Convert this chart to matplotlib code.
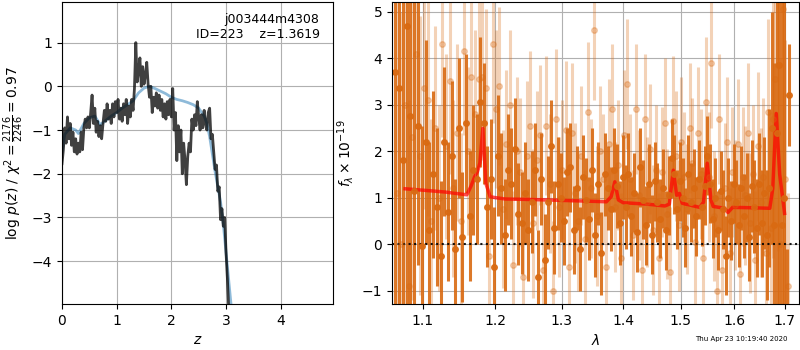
import numpy as np
import matplotlib
matplotlib.use("Agg")
import matplotlib.pyplot as plt
from matplotlib.ticker import NullLocator, NullFormatter

# ---- left panel: p(z) ----
z_grid = np.linspace(0.0, 3.05, 123)  # regular redshift grid, step 0.025
logpz = [
    -1.77, -1.45, -0.95, -1.30, -0.70, -1.20, -0.85, -1.35, -1.05, -1.50,
    -1.20, -1.55, -1.30, -1.50, -1.05, -1.45, -0.95, -0.75, -0.95, -0.70,
    -0.95, -0.60, -0.20, -0.85, -0.50, -1.05, -0.80, -1.15, -0.90, -1.20,
    -0.85, -0.55, -0.80, -0.40, -0.75, -0.55, -0.85, -0.40, -0.70, -0.35,
    -0.60, -0.30, -0.75, -0.50, -0.80, -0.40, -0.65, -0.30, -0.85, -0.45,
    -0.70, -0.30, -0.55, -0.05, 1.00, 0.10, 0.35, 0.65, 0.00, 0.45,
    0.05, 0.25, 0.55, 0.05, -0.25, 0.00, -0.60, -0.25, -0.45, -0.15,
    -0.50, -0.20, -0.55, -0.30, -0.70, -0.40, -0.75, -0.35, -0.65, -0.30,
    -0.70, -0.05, -1.00, -0.60, -1.70, -0.90, -1.50, -1.00, -2.00, -1.30,
    -1.70, -2.25, -1.60, -1.30, -1.50, -0.75, -1.00, -0.65, -0.90, -0.35,
    -0.70, -1.00, -0.65, -0.95, -0.55, -0.85, -1.00, -0.60, -0.50, -1.20,
    -1.10, -1.50, -1.90, -1.80, -2.40, -2.30, -3.05, -2.80, -3.20, -3.00,
    -3.80, -4.40, -5.10,
]

z_smooth = [0.0, 0.05, 0.15, 0.25, 0.3, 0.4, 0.5, 0.6, 0.7, 0.8, 0.9, 1.0,
            1.1, 1.2, 1.3, 1.4, 1.5, 1.6, 1.7, 1.8, 1.9, 2.0, 2.1, 2.2, 2.3,
            2.4, 2.5, 2.6, 2.65, 2.7, 2.75, 2.8, 2.85, 2.9, 2.95, 3.0, 3.05, 3.1]
logpz_smooth = [-1.5, -1.1, -0.95, -1.0, -1.08, -0.85, -0.72, -0.68, -0.88,
                -0.78, -0.68, -0.6, -0.5, -0.42, -0.33, -0.15, -0.04, 0.0,
                -0.05, -0.11, -0.17, -0.25, -0.3, -0.33, -0.37, -0.42, -0.5,
                -0.68, -0.85, -1.15, -1.55, -1.95, -2.3, -2.65, -3.15, -3.8,
                -4.45, -5.1]

# ---- right panel: spectrum ----
wave_dark = np.linspace(1.064, 1.709, 130)  # pixel grid
flux_dark = [
    3.70, 3.35, 1.80, 4.70, 2.75, 1.15, 2.55, -0.05, 2.20, 0.30,
    1.50, 0.80, -0.25, 2.20, 0.70, 1.90, -0.10, 2.50, 0.15, 2.60,
    0.60, 1.60, 1.40, 3.05, 2.60, 0.80, 1.40, -0.50, 1.90, 1.20,
    0.20, 1.60, 1.30, 2.05, 0.65, 0.45, 1.10, 0.30, 0.90, 1.60,
    -0.70, 1.40, -0.35, 0.90, 2.10, 0.35, 1.30, 1.00, 0.50, 1.55,
    1.65, 0.30, 1.20, -0.10, 1.45, 0.95, 0.55, 1.60, 0.20, 1.30,
    -0.20, 1.50, 1.20, 0.75, 1.60, 1.25, 0.45, 1.45, 0.80, 1.50,
    0.60, 1.10, 0.25, 1.65, 0.95, 0.40, 1.30, 0.20, 1.35, 0.90,
    0.55, 1.20, 0.30, 1.05, 1.85, 1.50, 0.75, 1.35, 1.00, 0.35,
    1.50, 0.90, 1.20, 0.60, 1.40, 0.80, 1.25, 1.90, 1.30, 0.55,
    1.00, 0.30, 1.15, 0.75, -0.25, 1.00, 0.50, 1.30, 0.90, 0.40,
    1.20, 0.60, 1.00, 0.15, 1.25, 0.80, 0.35, 1.30, 0.45, 1.10,
    0.20, 1.20, 2.50, 0.40, 2.40, 3.85, 0.40, 1.00, -1.50, 3.20,
]
err_dark = [
    8.0, 7.0, 6.0, 6.0, 5.0, 4.5, 3.0, 2.6, 2.2, 1.9,
    1.8, 1.7, 1.6, 1.6, 1.5, 1.6, 1.5, 1.5, 1.4, 1.5,
    1.4, 1.4, 1.4, 1.4, 1.3, 1.3, 1.3, 1.3, 1.3, 1.2,
    1.2, 1.2, 1.2, 1.1, 1.1, 1.1, 1.1, 1.1, 1.1, 1.0,
    1.0, 1.0, 1.0, 1.0, 1.0, 1.0, 1.0, 0.95, 0.95, 0.95,
    0.95, 0.95, 0.9, 0.9, 0.9, 0.9, 0.9, 0.9, 0.9, 0.9,
    0.9, 0.9, 0.9, 0.9, 0.9, 0.9, 0.9, 0.9, 0.9, 0.9,
    0.85, 0.85, 0.85, 0.85, 0.85, 0.85, 0.85, 0.85, 0.85, 0.85,
    0.85, 0.85, 0.85, 0.85, 0.85, 0.85, 0.85, 0.85, 0.85, 0.85,
    0.85, 0.85, 0.85, 0.85, 0.85, 0.85, 0.85, 0.85, 0.85, 0.85,
    0.85, 0.85, 0.85, 0.85, 0.85, 0.85, 0.85, 0.85, 0.9, 0.9,
    0.9, 0.9, 0.95, 0.95, 1.0, 1.0, 1.05, 1.1, 1.15, 1.2,
    1.4, 1.7, 2.5, 3.5, 5.0, 6.0, 7.0, 7.0, 1.4, 1.1,
]

wave_light = np.linspace(1.0665, 1.7065, 129)  # pixel grid
flux_light = [
    1.10, 0.00, 3.00, -0.90, 2.30, 4.10, 1.90, 3.35, 3.10, 0.50,
    2.50, 1.00, 4.30, 2.10, 3.50, 1.20, 2.40, 0.50, 4.15, 2.00,
    3.60, 2.80, 3.55, 3.60, 3.35, -0.25, 4.30, 2.90, 3.40, 0.75,
    2.15, 3.00, -0.45, 2.00, 1.55, -0.70, 1.90, 2.55, 0.45, 1.80,
    2.35, -0.55, 2.55, 1.30, -1.00, 2.70, 0.80, 1.60, 2.45, -0.50,
    2.40, 1.10, 0.50, 1.90, 0.10, 2.85, 1.20, 4.60, 0.60, 2.00,
    1.40, -0.50, 2.15, 2.90, 0.80, 1.70, -0.30, 2.35, 3.45, 1.40,
    0.20, 2.90, 1.05, -0.55, 2.70, 0.90, 2.05, 0.30, 1.60, -0.30,
    1.55, 2.60, 0.65, -0.60, 2.65, 1.90, 0.40, 2.20, 1.45, 0.75,
    2.50, 1.75, 0.05, 2.40, 1.50, -0.30, 3.05, 1.45, 3.90, 0.60,
    -1.00, 2.70, -0.55, 1.20, 2.20, -0.20, 1.55, 0.85, 2.15, -0.65,
    1.45, 1.05, 2.40, 0.45, 1.50, -0.35, 2.10, 0.90, 1.45, -0.20,
    2.85, 0.35, 2.70, 3.55, 3.85, 0.00, 5.05, 1.40, -0.90,
]
err_light = [
    6.0, 5.0, 4.5, 4.0, 3.5, 3.0, 3.0, 2.6, 2.5, 2.2,
    2.2, 2.0, 2.0, 2.0, 2.0, 1.9, 1.9, 1.9, 1.8, 1.8,
    1.8, 1.8, 1.8, 1.8, 1.7, 1.7, 1.7, 1.7, 1.7, 1.7,
    1.6, 1.6, 1.6, 1.6, 1.6, 1.6, 1.6, 1.6, 1.6, 1.5,
    1.5, 1.5, 1.5, 1.5, 1.5, 1.5, 1.5, 1.5, 1.5, 1.5,
    1.5, 1.5, 1.5, 1.5, 1.5, 1.5, 1.5, 1.5, 1.5, 1.4,
    1.4, 1.4, 1.4, 1.4, 1.4, 1.4, 1.4, 1.4, 1.4, 1.4,
    1.4, 1.4, 1.4, 1.4, 1.4, 1.4, 1.4, 1.4, 1.4, 1.4,
    1.4, 1.4, 1.4, 1.4, 1.4, 1.4, 1.4, 1.4, 1.4, 1.4,
    1.4, 1.4, 1.4, 1.4, 1.4, 1.4, 1.4, 1.4, 1.4, 1.4,
    1.4, 1.4, 1.4, 1.4, 1.4, 1.4, 1.4, 1.4, 1.4, 1.4,
    1.5, 1.5, 1.5, 1.5, 1.5, 1.5, 1.6, 1.6, 1.7, 1.8,
    2.0, 2.5, 3.0, 3.5, 4.0, 4.0, 4.0, 3.0, 2.0,
]

model_wave = [1.077, 1.10, 1.13, 1.155, 1.160, 1.166, 1.171, 1.175, 1.1785,
              1.1826, 1.187, 1.193, 1.20, 1.215, 1.25, 1.30, 1.35, 1.372,
              1.380, 1.386, 1.392, 1.40, 1.44, 1.472, 1.480, 1.487, 1.493,
              1.498, 1.503, 1.509, 1.535, 1.542, 1.549, 1.556, 1.560, 1.582,
              1.588, 1.597, 1.64, 1.670, 1.676, 1.683, 1.690, 1.70]
model_flux = [1.19, 1.16, 1.12, 1.07, 1.06, 1.25, 1.45, 1.56, 1.75, 2.49,
              1.3, 1.02, 1.0, 0.97, 0.96, 0.94, 0.92, 0.91, 1.02, 1.34,
              0.95, 0.89, 0.86, 0.82, 0.86, 1.59, 1.05, 1.09, 0.88, 0.86,
              0.79, 0.9, 1.74, 0.95, 0.81, 0.77, 0.68, 0.79, 0.78, 0.77,
              1.2, 2.81, 1.5, 0.66]

lam_ticks = [1.1, 1.2, 1.3, 1.4, 1.5, 1.6, 1.7]
lam_labels = ["1.1", "1.2", "1.3", "1.4", "1.5", "1.6", "1.7"]

orange = "#d96a12"

fig = plt.figure(figsize=(8, 3.5), dpi=100)

# p(z)
ax1 = fig.add_axes([0.0775, 0.1314, 0.339, 0.863])
ax1.plot(z_smooth, logpz_smooth, color="tab:blue", alpha=0.5, lw=2)
ax1.plot(z_grid, logpz, color="k", alpha=0.75, lw=2)
ax1.set_xlim(0, 4.96)
ax1.set_ylim(-4.98, 1.93)
ax1.set_xticks([0, 1, 2, 3, 4])
ax1.set_yticks([-4, -3, -2, -1, 0, 1])
ax1.grid(True)
ax1.set_xlabel("$z$")
ax1.set_ylabel(r"$\log\,p(z)$ / $\chi^2=\frac{2176}{2246}=0.97$")
ax1.text(0.95, 0.965, "j003444m4308\nID=223    z=1.3619",
         transform=ax1.transAxes, ha="right", va="top", fontsize=9)

# spectrum
ax2 = fig.add_axes([0.49, 0.1314, 0.5085, 0.863])
ax2.errorbar(wave_light, flux_light, err_light, marker="o", ms=4,
             linestyle="None", color=orange, alpha=0.3, elinewidth=2.2,
             capsize=0)
ax2.errorbar(wave_dark, flux_dark, err_dark, marker="o", ms=4,
             linestyle="None", color=orange, alpha=0.9, elinewidth=2.2,
             capsize=0)
ax2.plot(model_wave, model_flux, color="red", alpha=0.7, lw=2.5)
ax2.axhline(0, color="k", linestyle=":", lw=1.5, alpha=0.9)
ax2.set_xscale("log")
ax2.set_xlim(1.0602, 1.7293)
ax2.set_ylim(-1.29, 5.21)
ax2.set_xticks(lam_ticks)
ax2.set_xticklabels(lam_labels)
ax2.xaxis.set_minor_locator(NullLocator())
ax2.xaxis.set_minor_formatter(NullFormatter())
ax2.set_yticks([-1, 0, 1, 2, 3, 4, 5])
ax2.grid(True)
ax2.set_xlabel(r"$\lambda$")
ax2.set_ylabel(r"$f_\lambda \times 10^{-19}$")

fig.text(0.985, 0.031, "Thu Apr 23 10:19:40 2020", ha="right", va="center",
         fontsize=5)

fig.savefig("out.png", dpi=100)
